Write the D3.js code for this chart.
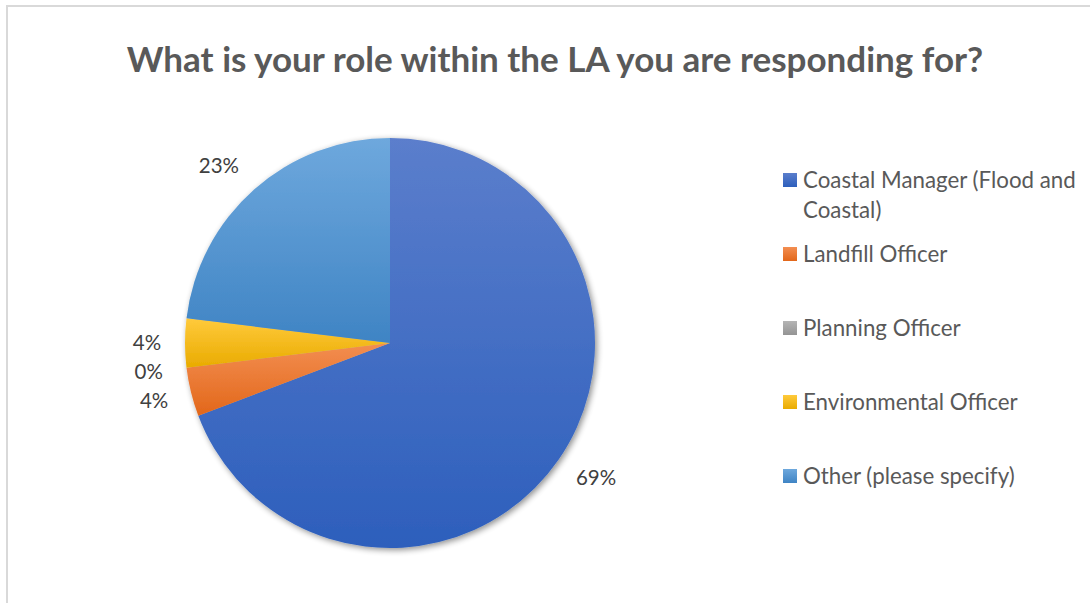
<!DOCTYPE html>
<html>
<head>
<meta charset="utf-8">
<script src="https://cdn.jsdelivr.net/npm/d3@7"></script>
<style>
  html, body { margin: 0; padding: 0; background: #ffffff; }
  svg { display: block; }
</style>
</head>
<body>
<svg id="chart" width="1090" height="603"></svg>
<script>
// Survey responses: role within the Local Authority
const categories = [
  "Coastal Manager (Flood and Coastal)",
  "Landfill Officer",
  "Planning Officer",
  "Environmental Officer",
  "Other (please specify)"
];
const responses = [18, 1, 0, 1, 6];
const legendLines = [
  ["Coastal Manager (Flood and", "Coastal)"],
  ["Landfill Officer"],
  ["Planning Officer"],
  ["Environmental Officer"],
  ["Other (please specify)"]
];
const titleText = "What is your role within the LA you are responding for?";

// Gradient stops per slice: lighter at the top, darker at the bottom
const sliceTop    = ["#5b7ecc", "#f38e51", "#b5b5b5", "#ffca3c", "#6ea8dd"];
const sliceBottom = ["#2d5fbc", "#e2671a", "#949494", "#e9ab00", "#3f84c4"];

const W = 1090, H = 603;
const svg = d3.select("#chart");
const font = "Lato, 'Noto Sans', sans-serif";

// Chart area border
svg.append("path")
  .attr("d", `M7,${H} L7,6 L${W},6`)
  .attr("fill", "none")
  .attr("stroke", "#d9d9d9")
  .attr("stroke-width", 2);

// Title
svg.append("text")
  .attr("x", 555)
  .attr("y", 63)
  .attr("text-anchor", "middle")
  .attr("dominant-baseline", "middle")
  .attr("font-family", font)
  .attr("font-weight", "bold")
  .attr("font-size", 35)
  .attr("fill", "#595959")
  .text(titleText);

const defs = svg.append("defs");

// Soft drop shadow under the pie
const shadow = defs.append("filter")
  .attr("id", "pieShadow")
  .attr("x", "-10%").attr("y", "-10%")
  .attr("width", "120%").attr("height", "120%");
shadow.append("feGaussianBlur").attr("in", "SourceAlpha").attr("stdDeviation", 3).attr("result", "blur");
shadow.append("feOffset").attr("in", "blur").attr("dx", 2).attr("dy", 2).attr("result", "off");
shadow.append("feComponentTransfer").attr("in", "off").attr("result", "soft")
  .append("feFuncA").attr("type", "linear").attr("slope", 0.45);
const merge = shadow.append("feMerge");
merge.append("feMergeNode").attr("in", "soft");
merge.append("feMergeNode").attr("in", "SourceGraphic");

categories.forEach((c, i) => {
  const g = defs.append("linearGradient")
    .attr("id", "grad" + i)
    .attr("x1", 0).attr("y1", 0).attr("x2", 0).attr("y2", 1);
  g.append("stop").attr("offset", "0%").attr("stop-color", sliceTop[i]);
  g.append("stop").attr("offset", "100%").attr("stop-color", sliceBottom[i]);
});

const cx = 390, cy = 343, radius = 205;
const total = d3.sum(responses);

const pie = d3.pie().sort(null).value(d => d)
  .startAngle(0).endAngle(2 * Math.PI);
const arcs = pie(responses);
const arc = d3.arc().innerRadius(0).outerRadius(radius);
const labelArc = d3.arc().innerRadius(243).outerRadius(243);

const pieG = svg.append("g")
  .attr("transform", `translate(${cx},${cy})`);

pieG.append("g")
  .attr("filter", "url(#pieShadow)")
  .selectAll("path")
  .data(arcs)
  .join("path")
  .attr("d", arc)
  .attr("fill", (d, i) => `url(#grad${i})`);

// Percentage labels outside the slices; the wide upper-left label sits
// a little further toward the horizontal, the lower-right one further out
const fmt = d3.format(".0%");
pieG.selectAll("text.pct")
  .data(arcs)
  .join("text")
  .attr("class", "pct")
  .attr("transform", d => {
    let [x, y] = labelArc.centroid(d);
    if (x < 0 && y < -60) { x -= 10; y += 5; }
    if (x > 0 && y > 60) { x += 6; y -= 3; }
    return `translate(${x},${y + 2})`;
  })
  .attr("text-anchor", "middle")
  .attr("dominant-baseline", "middle")
  .attr("font-family", font)
  .attr("font-size", 20.5)
  .attr("fill", "#404040")
  .text(d => fmt(d.data / total));

// Legend
const legendY = d3.scalePoint()
  .domain(categories)
  .range([180, 476]);

const leg = svg.append("g");
const items = leg.selectAll("g")
  .data(categories)
  .join("g")
  .attr("transform", d => `translate(783,${legendY(d)})`);

items.append("rect")
  .attr("x", 0).attr("y", -7)
  .attr("width", 14).attr("height", 14)
  .attr("fill", (d, i) => `url(#grad${i})`);

items.append("text")
  .attr("font-family", font)
  .attr("font-size", 22.3)
  .attr("fill", "#595959")
  .attr("dominant-baseline", "middle")
  .selectAll("tspan")
  .data((d, i) => legendLines[i])
  .join("tspan")
  .attr("x", 20)
  .attr("y", (d, j) => j * 30 + 2)
  .text(d => d);
</script>
</body>
</html>
